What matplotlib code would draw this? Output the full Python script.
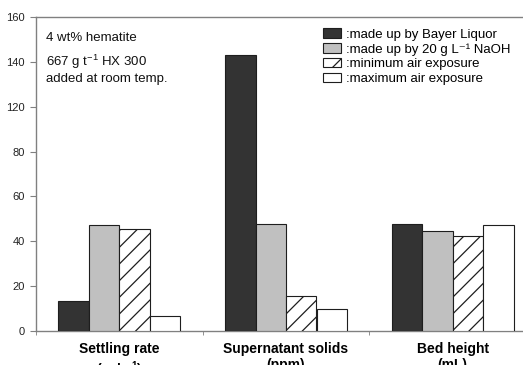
import numpy as np
import matplotlib
matplotlib.use("Agg")
import matplotlib.pyplot as plt
from matplotlib.patches import Patch

# ---- data ----
categories = ["Settling rate\n(m h$^{-1}$)", "Supernatant solids\n(ppm)", "Bed height\n(mL)"]
series_labels = [":made up by Bayer Liquor",
                 ":made up by 20 g L\u207b\u00b9 NaOH",
                 ":minimum air exposure",
                 ":maximum air exposure"]
bayer_liquor = [13.4, 143.0, 47.9]
naoh_20 = [47.3, 47.9, 44.6]
min_air = [45.5, 15.8, 42.4]
max_air = [6.7, 9.8, 47.3]
ytick_values = [0, 20, 40, 60, 80, 120, 140, 160]

# ---- style ----
plt.rcParams["font.family"] = ["Liberation Sans", "DejaVu Sans"]
plt.rcParams["mathtext.fontset"] = "custom"
plt.rcParams["mathtext.rm"] = "Liberation Sans"
plt.rcParams["mathtext.bf"] = "Liberation Sans:bold"
plt.rcParams["mathtext.default"] = "regular"
plt.rcParams["hatch.linewidth"] = 0.9

W, H = 523, 365
fig = plt.figure(figsize=(W / 100, H / 100), dpi=100)
ax = fig.add_axes([36 / W, (H - 331) / H, 500 / W, 314 / H])

# y axis: evenly spaced ticks where the 80-120 step is compressed
def fwd(v):
    v = np.asarray(v, dtype=float)
    return np.where(v <= 80, v / 20, np.where(v <= 120, 4 + (v - 80) / 40, 5 + (v - 120) / 20))

def inv(p):
    p = np.asarray(p, dtype=float)
    return np.where(p <= 4, p * 20, np.where(p <= 5, 80 + (p - 4) * 40, 120 + (p - 5) * 20))

ax.set_yscale("function", functions=(fwd, inv))

x = np.arange(len(categories))
w = 0.183
edge = "#1e1e1e"
styles = [
    dict(color="#333333", hatch=None),
    dict(color="#c0c0c0", hatch=None),
    dict(color="white", hatch="//"),
    dict(color="white", hatch=None),
]
series = [bayer_liquor, naoh_20, min_air, max_air]
for i, (vals, st) in enumerate(zip(series, styles)):
    ax.bar(x + (i - 1.5) * w, vals, width=w, facecolor=st["color"], edgecolor=edge,
           linewidth=0.8, hatch=st["hatch"], zorder=3)

ax.set_xlim(-0.5, 2.5)
ax.set_ylim(0, 160)
ax.set_yticks(ytick_values)
ax.set_yticklabels([str(v) for v in ytick_values])
ax.yaxis.set_minor_locator(matplotlib.ticker.NullLocator())

ax.set_xticks(x)
ax.set_xticklabels(categories, fontweight="bold", fontsize=10)
ax.set_xticks([-0.5, 0.5, 1.5, 2.5], minor=True)
ax.tick_params(axis="x", which="major", length=0, pad=8)
ax.tick_params(axis="x", which="minor", length=3, color="#808080", direction="out")
ax.tick_params(axis="y", length=4, color="#808080", labelsize=8, pad=4, labelcolor="#222222")

for side in ["left", "bottom", "top", "right"]:
    ax.spines[side].set_color("#808080")
    ax.spines[side].set_linewidth(1.0)

# annotations
fig.text(46 / W, 1 - 38 / H, "4 wt% hematite", fontsize=9.5, va="center", ha="left", color="#111111")
fig.text(46 / W, 1 - 62 / H, "667 g t$^{-1}$ HX 300", fontsize=9.5, va="center", ha="left", color="#111111")
fig.text(46 / W, 1 - 79 / H, "added at room temp.", fontsize=9.5, va="center", ha="left", color="#111111")

handles = [Patch(facecolor=st["color"], edgecolor=edge, linewidth=0.8,
                 hatch=("/" if st["hatch"] else None))
           for st in styles]
leg = ax.legend(handles, series_labels, loc="upper left",
                bbox_to_anchor=(323 / W, 1 - 28.5 / H), bbox_transform=fig.transFigure,
                frameon=False, fontsize=9.5, borderpad=0, borderaxespad=0,
                handlelength=1.35, handleheight=0.7, handletextpad=0.4, labelspacing=0.18)

fig.savefig("out.png", dpi=100)
